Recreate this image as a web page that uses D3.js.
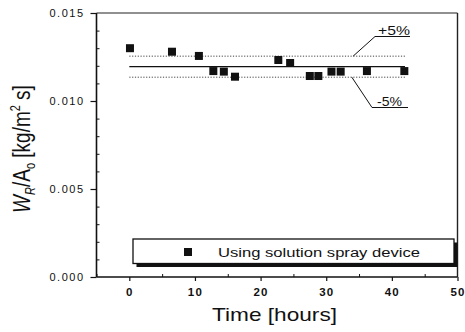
<!DOCTYPE html>
<html>
<head>
<meta charset="utf-8">
<script src="https://cdn.jsdelivr.net/npm/d3@7"></script>
<style>
  body { margin: 0; background: #fff; }
  svg { display: block; font-family: Arial, "Liberation Sans", sans-serif; }
</style>
</head>
<body>
<svg width="465" height="332"></svg>
<script>
// measured points (time in hours, W_R/A_o in kg/m2 s)
var times = [0.1, 6.5, 10.6, 12.8, 14.4, 16.1, 22.7, 24.5, 27.5, 28.8, 30.8, 32.2, 36.2, 41.9];
var values = [0.0130, 0.0128, 0.01256, 0.0117, 0.01167, 0.01138, 0.01233, 0.01216, 0.01142, 0.01142, 0.01167, 0.01167, 0.0117, 0.0117];

var meanValue = 0.01195;
var bandRange = [0, 42];
var bandLabels = ["+5%", "-5%"];
var bandFactors = [1.05, 0.95];

var xTicks = [0, 10, 20, 30, 40, 50];
var yTicks = [0.000, 0.005, 0.010, 0.015];
var legendLabel = "Using solution spray device";

var svg = d3.select("svg");

var x = d3.scaleLinear().domain([-5, 50]).range([96.5, 457.5]);
var y = d3.scaleLinear().domain([0, 0.015]).range([277, 13]);

// plot frame: left/bottom heavy, top/right lighter like the scan
svg.append("line").attr("x1", x(-5)).attr("x2", x(50)).attr("y1", y(0.015)).attr("y2", y(0.015))
    .attr("stroke", "#222").attr("stroke-width", 1.2);
svg.append("line").attr("x1", x(50)).attr("x2", x(50)).attr("y1", y(0.015)).attr("y2", y(0))
    .attr("stroke", "#222").attr("stroke-width", 1.4);
svg.append("line").attr("x1", x(-5)).attr("x2", x(-5)).attr("y1", y(0.015)).attr("y2", y(0))
    .attr("stroke", "#111").attr("stroke-width", 1.6);
svg.append("line").attr("x1", x(-5)).attr("x2", x(50)).attr("y1", y(0)).attr("y2", y(0))
    .attr("stroke", "#111").attr("stroke-width", 1.6);

// x axis
var xAxis = svg.append("g")
    .attr("transform", "translate(0," + y(0) + ")")
    .call(d3.axisBottom(x).tickValues(xTicks).tickSize(4).tickPadding(7).tickFormat(d3.format("d")));
xAxis.select(".domain").remove();
xAxis.selectAll("text")
    .attr("font-size", 11.5).attr("font-weight", "bold").attr("letter-spacing", 1.2).attr("fill", "#111");
xAxis.selectAll("line").attr("stroke", "#111").attr("stroke-width", 1.2);

svg.append("g")
    .attr("transform", "translate(0," + y(0) + ")")
    .call(d3.axisBottom(x).tickValues([-5, 5, 15, 25, 35, 45]).tickSize(-3).tickFormat(""))
    .call(function (g) { g.select(".domain").remove(); g.selectAll("line").attr("stroke", "#111"); });

// y axis
var yAxis = svg.append("g")
    .attr("transform", "translate(" + x(-5) + ",0)")
    .call(d3.axisLeft(y).tickValues(yTicks).tickSize(6).tickPadding(6).tickFormat(d3.format(".3f")));
yAxis.select(".domain").remove();
yAxis.selectAll("text")
    .attr("font-size", 11).attr("letter-spacing", 1.5).attr("fill", "#111");
yAxis.selectAll("line").attr("stroke", "#111").attr("stroke-width", 1.2);

svg.append("g")
    .attr("transform", "translate(" + x(-5) + ",0)")
    .call(d3.axisLeft(y).tickValues(d3.range(1, 15).filter(function (i) { return i % 5 != 0; }).map(function (i) { return i / 1000; })).tickSize(-3).tickFormat(""))
    .call(function (g) { g.select(".domain").remove(); g.selectAll("line").attr("stroke", "#111"); });

// mean line and +/-5% band
svg.append("line")
    .attr("x1", x(bandRange[0])).attr("x2", x(bandRange[1]))
    .attr("y1", y(meanValue)).attr("y2", y(meanValue))
    .attr("stroke", "#111").attr("stroke-width", 1.2);

svg.selectAll(".band")
    .data(bandFactors)
    .enter().append("line")
    .attr("class", "band")
    .attr("x1", x(bandRange[0])).attr("x2", x(bandRange[1]))
    .attr("y1", function (d) { return y(meanValue * d); })
    .attr("y2", function (d) { return y(meanValue * d); })
    .attr("stroke", "#444").attr("stroke-width", 1)
    .attr("stroke-dasharray", "1.2,1.6");

// band annotations with leader lines
var annot = [
    { label: bandLabels[0], tx: 378, ty: 34.5, tw: 32, ux1: 375, ux2: 410, uy: 36.5, px: x(34.1), py: y(meanValue * bandFactors[0]) },
    { label: bandLabels[1], tx: 377, ty: 105.5, tw: 25, ux1: 372, ux2: 408, uy: 107.5, px: x(33.9), py: y(meanValue * bandFactors[1]) }
];
annot.forEach(function (a) {
    svg.append("text")
        .attr("x", a.tx).attr("y", a.ty)
        .attr("font-size", 13.5).attr("fill", "#111")
        .attr("textLength", a.tw).attr("lengthAdjust", "spacingAndGlyphs")
        .text(a.label);
    svg.append("polyline")
        .attr("points", [[a.ux2, a.uy], [a.ux1, a.uy], [a.px, a.py]].join(" "))
        .attr("fill", "none").attr("stroke", "#111").attr("stroke-width", 1);
});

// data points
var size = 8;
svg.selectAll(".pt")
    .data(times)
    .enter().append("rect")
    .attr("class", "pt")
    .attr("x", function (d) { return x(d) - size / 2; })
    .attr("y", function (d, i) { return y(values[i]) - size / 2; })
    .attr("width", size).attr("height", size)
    .attr("fill", "#111");

// legend box with shadow
var lg = { x: 133, y: 239, w: 321, h: 24.5 };
svg.append("rect")
    .attr("x", lg.x + 3.5).attr("y", lg.y + 3.5).attr("width", lg.w).attr("height", lg.h)
    .attr("fill", "#111");
svg.append("rect")
    .attr("x", lg.x).attr("y", lg.y).attr("width", lg.w).attr("height", lg.h)
    .attr("fill", "#fff").attr("stroke", "#111").attr("stroke-width", 1.3);
svg.append("rect")
    .attr("x", 184).attr("y", 248).attr("width", size).attr("height", size)
    .attr("fill", "#111");
svg.append("text")
    .attr("x", 218).attr("y", 256.5)
    .attr("font-size", 12.5).attr("fill", "#111")
    .attr("textLength", 202).attr("lengthAdjust", "spacingAndGlyphs")
    .text(legendLabel);

// axis titles
svg.append("text")
    .attr("x", 212).attr("y", 320.5)
    .attr("font-size", 19).attr("fill", "#111")
    .attr("textLength", 125).attr("lengthAdjust", "spacingAndGlyphs")
    .text("Time [hours]");

var yt = svg.append("text")
    .attr("transform", "translate(30,149) rotate(-90) scale(1,1.3)")
    .attr("text-anchor", "middle")
    .attr("font-size", 19).attr("fill", "#111");
yt.append("tspan").attr("font-style", "italic").text("W");
yt.append("tspan").attr("font-size", 11).attr("font-style", "italic").attr("dy", 4).text("R");
yt.append("tspan").attr("dy", -4).text("/A");
yt.append("tspan").attr("font-size", 11).attr("dy", 4).text("o");
yt.append("tspan").attr("dy", -4).text(" [kg/m");
yt.append("tspan").attr("font-size", 11).attr("dy", -8).text("2");
yt.append("tspan").attr("dy", 8).text(" s]");
</script>
</body>
</html>
